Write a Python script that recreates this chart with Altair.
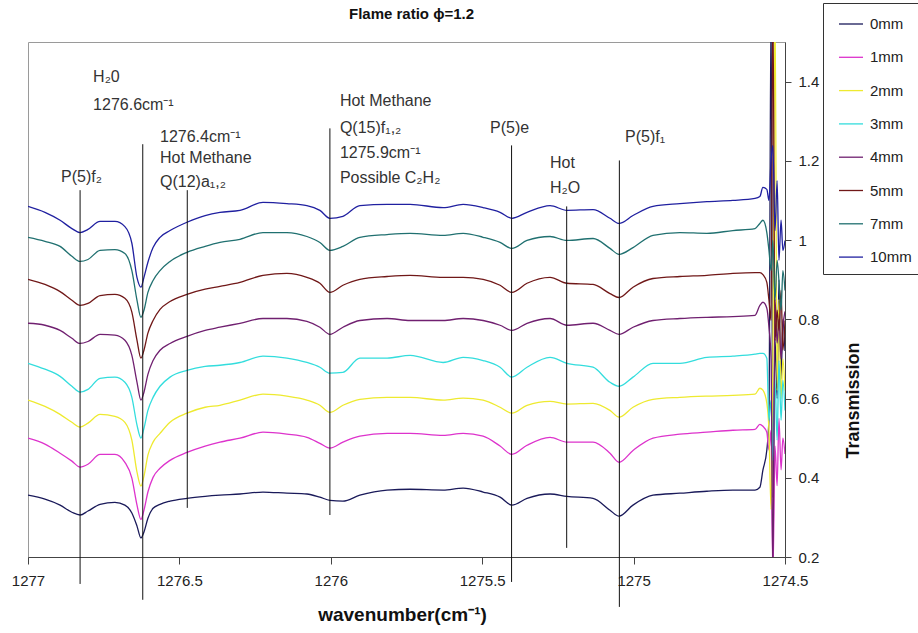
import altair as alt
import pandas as pd

FONT = "Liberation Sans"

# Wavenumber grid (cm-1) shared by all spectra
wavenumber = [
    1277.000, 1276.944, 1276.894, 1276.855, 1276.828, 1276.802, 1276.762, 1276.713, 1276.680, 1276.657,
    1276.640, 1276.627, 1276.617, 1276.604, 1276.587, 1276.564, 1276.531, 1276.475, 1276.415, 1276.366,
    1276.300, 1276.224, 1276.145, 1276.079, 1276.036, 1276.003, 1275.960, 1275.904, 1275.814, 1275.738,
    1275.629, 1275.563, 1275.497, 1275.441, 1275.402, 1275.352, 1275.276, 1275.220, 1275.134, 1275.078,
    1275.048, 1275.002, 1274.936, 1274.847, 1274.758, 1274.672, 1274.599, 1274.583, 1274.573, 1274.560,
    1274.553, 1274.546, 1274.540, 1274.533, 1274.526, 1274.520, 1274.513, 1274.507, 1274.500,
]

# Transmission for each height above the burner
t_0mm = [
    0.356, 0.346, 0.331, 0.313, 0.306, 0.316, 0.333, 0.338, 0.331, 0.311,
    0.278, 0.248, 0.263, 0.298, 0.323, 0.333, 0.341, 0.348, 0.353, 0.356,
    0.359, 0.364, 0.361, 0.359, 0.351, 0.343, 0.341, 0.356, 0.369, 0.371,
    0.369, 0.374, 0.364, 0.351, 0.331, 0.348, 0.359, 0.353, 0.348, 0.318,
    0.303, 0.331, 0.356, 0.361, 0.366, 0.369, 0.369, 0.376, 0.419, 0.470,
    0.550, 1.600, 0.350, 0.750, 0.600, 0.900, 0.650, 0.800, 0.720,
]
t_1mm = [
    0.500, 0.485, 0.462, 0.442, 0.427, 0.434, 0.459, 0.459, 0.439, 0.399,
    0.331, 0.295, 0.318, 0.364, 0.401, 0.424, 0.444, 0.464, 0.480, 0.490,
    0.500, 0.515, 0.510, 0.502, 0.487, 0.475, 0.490, 0.505, 0.512, 0.512,
    0.507, 0.512, 0.505, 0.480, 0.459, 0.482, 0.502, 0.490, 0.490, 0.462,
    0.439, 0.469, 0.500, 0.510, 0.515, 0.520, 0.522, 0.535, 0.530, 0.515,
    0.470, 0.520, 0.150, 0.480, 0.380, 0.550, 0.420, 0.500, 0.460,
]
t_2mm = [
    0.596, 0.580, 0.560, 0.540, 0.528, 0.538, 0.560, 0.555, 0.540, 0.495,
    0.414, 0.379, 0.404, 0.457, 0.490, 0.512, 0.540, 0.563, 0.578, 0.583,
    0.596, 0.611, 0.606, 0.596, 0.583, 0.565, 0.583, 0.598, 0.603, 0.603,
    0.596, 0.601, 0.596, 0.578, 0.563, 0.583, 0.593, 0.586, 0.588, 0.570,
    0.553, 0.578, 0.598, 0.603, 0.606, 0.608, 0.611, 0.626, 0.621, 0.588,
    0.520, 0.320, 0.700, 1.600, 0.620, 0.850, 0.600, 0.700, 0.620,
]
t_3mm = [
    0.689, 0.674, 0.656, 0.631, 0.616, 0.623, 0.651, 0.654, 0.641, 0.603,
    0.533, 0.500, 0.525, 0.570, 0.603, 0.631, 0.654, 0.671, 0.681, 0.684,
    0.691, 0.707, 0.702, 0.691, 0.679, 0.664, 0.666, 0.702, 0.702, 0.709,
    0.691, 0.704, 0.696, 0.679, 0.654, 0.679, 0.704, 0.689, 0.679, 0.641,
    0.631, 0.654, 0.689, 0.689, 0.704, 0.707, 0.712, 0.714, 0.714, 0.702,
    0.545, 0.596, 0.444, 0.646, 0.495, 0.696, 0.545, 0.646, 0.570,
]
t_4mm = [
    0.790, 0.785, 0.772, 0.752, 0.739, 0.744, 0.762, 0.760, 0.747, 0.709,
    0.641, 0.596, 0.616, 0.661, 0.696, 0.722, 0.739, 0.757, 0.772, 0.780,
    0.790, 0.802, 0.802, 0.795, 0.780, 0.762, 0.780, 0.797, 0.802, 0.797,
    0.797, 0.802, 0.797, 0.785, 0.772, 0.790, 0.802, 0.785, 0.790, 0.772,
    0.762, 0.780, 0.797, 0.802, 0.805, 0.807, 0.810, 0.835, 0.843, 0.828,
    0.780, 0.700, 0.150, 0.850, 0.740, 0.800, 0.700, 0.780, 0.820,
]
t_5mm = [
    0.901, 0.888, 0.870, 0.848, 0.835, 0.840, 0.860, 0.863, 0.853, 0.818,
    0.747, 0.702, 0.722, 0.765, 0.797, 0.825, 0.845, 0.863, 0.876, 0.883,
    0.893, 0.911, 0.916, 0.906, 0.891, 0.868, 0.886, 0.901, 0.908, 0.911,
    0.906, 0.906, 0.901, 0.886, 0.868, 0.891, 0.906, 0.891, 0.888, 0.865,
    0.855, 0.881, 0.903, 0.908, 0.911, 0.916, 0.918, 0.918, 0.913, 0.893,
    0.848, 0.797, 1.600, 0.747, 0.823, 0.772, 0.873, 0.722, 0.797,
]
t_7mm = [
    1.007, 0.997, 0.984, 0.959, 0.946, 0.951, 0.974, 0.976, 0.966, 0.923,
    0.848, 0.805, 0.823, 0.868, 0.898, 0.923, 0.946, 0.969, 0.984, 0.994,
    1.002, 1.019, 1.019, 1.009, 0.994, 0.974, 0.984, 1.007, 1.014, 1.017,
    1.012, 1.017, 1.007, 0.994, 0.979, 0.999, 1.009, 0.999, 1.004, 0.979,
    0.964, 0.981, 1.012, 1.019, 1.017, 1.024, 1.029, 1.042, 1.050, 1.019,
    0.974, 0.923, 0.999, 0.848, 0.949, 0.898, 0.823, 0.923, 0.873,
]
t_10mm = [
    1.085, 1.070, 1.050, 1.029, 1.019, 1.027, 1.047, 1.047, 1.034, 0.992,
    0.905, 0.881, 0.906, 0.944, 0.981, 1.007, 1.024, 1.045, 1.062, 1.070,
    1.075, 1.095, 1.092, 1.087, 1.075, 1.055, 1.060, 1.087, 1.090, 1.090,
    1.082, 1.090, 1.082, 1.070, 1.055, 1.070, 1.087, 1.075, 1.077, 1.055,
    1.042, 1.062, 1.085, 1.092, 1.097, 1.100, 1.105, 1.110, 1.133, 1.128,
    1.100, 1.201, 1.239, 1.024, 1.150, 0.949, 1.050, 0.974, 0.999,
]

series_names = ["0mm", "1mm", "2mm", "3mm", "4mm", "5mm", "7mm", "10mm"]
series_values = [t_0mm, t_1mm, t_2mm, t_3mm, t_4mm, t_5mm, t_7mm, t_10mm]
series_colors = ["#1a1a5a", "#dd33cc", "#eeea30", "#33dddd",
                 "#702070", "#701818", "#207070", "#2020a0"]

x_ticks = [1277, 1276.5, 1276, 1275.5, 1275, 1274.5]
y_ticks = [0.2, 0.4, 0.6, 0.8, 1.0, 1.2, 1.4]

# Marker lines for the assigned absorption features
marker_wavenumber = [1276.828, 1276.621, 1276.474, 1276.003, 1275.403, 1275.221, 1275.047]
marker_top = [1.126, 1.242, 1.126, 1.282, 1.239, 1.085, 1.201]
marker_bottom = [0.132, 0.092, 0.324, 0.306, 0.137, 0.223, 0.074]

# Feature labels (left edge, vertical centre)
label_text = [
    "H₂0", "1276.6cm⁻¹",
    "1276.4cm⁻¹", "Hot Methane", "Q(12)a₁,₂",
    "P(5)f₂",
    "Hot Methane", "Q(15)f₁,₂", "1275.9cm⁻¹", "Possible C₂H₂",
    "P(5)e",
    "Hot", "H₂O",
    "P(5)f₁",
]
label_wavenumber = [
    1276.785, 1276.785,
    1276.564, 1276.564, 1276.564,
    1276.891,
    1275.970, 1275.970, 1275.970, 1275.970,
    1275.474,
    1275.276, 1275.276,
    1275.028,
]
label_transmission = [
    1.411, 1.340,
    1.259, 1.206, 1.146,
    1.158,
    1.350, 1.284, 1.219, 1.156,
    1.282,
    1.194, 1.131,
    1.259,
]

spectra = pd.DataFrame(
    [
        {"wavenumber": w, "transmission": t, "series": name}
        for name, values in zip(series_names, series_values)
        for w, t in zip(wavenumber, values)
    ]
)
markers = pd.DataFrame(
    {"wavenumber": marker_wavenumber, "top": marker_top, "bottom": marker_bottom}
)
labels = pd.DataFrame(
    {"wavenumber": label_wavenumber, "transmission": label_transmission, "text": label_text}
)

x_scale = alt.Scale(domain=[1274.5, 1277], reverse=True, nice=False, zero=False)
y_scale = alt.Scale(domain=[0.2, 1.5], nice=False, zero=False)

x_axis = alt.Axis(
    values=x_ticks, format="~g", grid=False, tickSize=7, labelPadding=9,
    labelFlush=False, labelFontSize=15, titleFontSize=19, titleFontWeight="bold",
    titleX=374, titleY=57, titleBaseline="middle", titleAlign="center",
)
y_axis = alt.Axis(
    orient="right", values=y_ticks, format="~g", grid=False, tickSize=6,
    labelPadding=7, labelFlush=False, labelFontSize=15, titleFontSize=18,
    titleFontWeight="bold", titleAngle=270, titleX=68, titleY=358,
    titleBaseline="middle", titleAlign="center",
)
X_TITLE = "wavenumber(cm⁻¹)"
Y_TITLE = "Transmission"

lines = alt.Chart(spectra).mark_line(
    strokeWidth=1.3, clip=True, interpolate="monotone"
).encode(
    x=alt.X("wavenumber:Q", scale=x_scale, axis=x_axis, title=X_TITLE),
    y=alt.Y("transmission:Q", scale=y_scale, axis=y_axis, title=Y_TITLE),
    color=alt.Color(
        "series:N",
        scale=alt.Scale(domain=series_names, range=series_colors),
        legend=alt.Legend(
            title=None, orient="none", legendX=795, legendY=-39,
            symbolType="stroke", symbolSize=576, symbolStrokeWidth=1.3,
            symbolOffset=7, labelOffset=6, labelFontSize=15, labelFont=FONT,
            labelColor="#222222", padding=8, rowPadding=12.3,
            strokeColor="#333333", fillColor="white",
        ),
    ),
)

marker_rules = alt.Chart(markers).mark_rule(color="#111111", strokeWidth=1).encode(
    x=alt.X("wavenumber:Q", scale=x_scale, axis=x_axis, title=X_TITLE),
    y=alt.Y("top:Q", scale=y_scale, axis=y_axis, title=Y_TITLE),
    y2="bottom:Q",
)

marker_labels = alt.Chart(labels).mark_text(
    align="left", baseline="middle", font=FONT, fontSize=16, color="#333333"
).encode(
    x=alt.X("wavenumber:Q", scale=x_scale, axis=x_axis, title=X_TITLE),
    y=alt.Y("transmission:Q", scale=y_scale, axis=y_axis, title=Y_TITLE),
    text="text:N",
)

chart = alt.layer(lines, marker_rules, marker_labels).properties(
    width=757,
    height=515,
    title=alt.TitleParams(
        "Flame ratio ϕ=1.2", font=FONT, fontSize=15, fontWeight="bold",
        anchor="middle", frame="group", offset=20, dx=5, dy=39, color="#111111",
    ),
    autosize=alt.AutoSizeParams(type="none"),
    padding={"left": 28, "top": 42, "right": 133, "bottom": 76},
).configure_view(
    stroke="#9a9a9a", strokeWidth=1
).configure_axis(
    labelFont=FONT, titleFont=FONT, labelColor="#222222", titleColor="#111111",
    domainColor="#444444", tickColor="#444444",
)

chart.save("out.html", embed_options={"renderer": "svg", "actions": False})
